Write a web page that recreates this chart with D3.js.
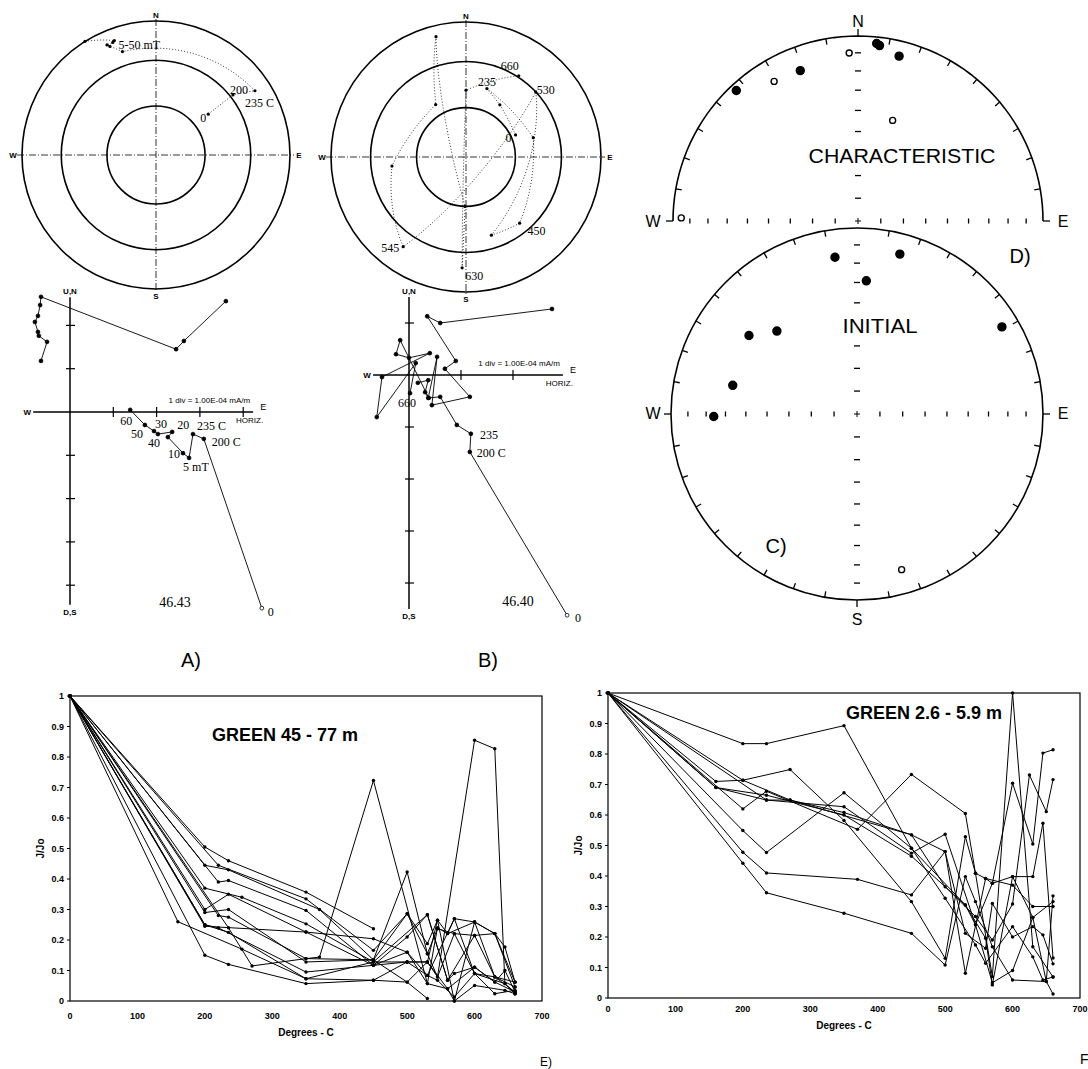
<!DOCTYPE html>
<html>
<head>
<meta charset="utf-8">
<script src="https://cdn.jsdelivr.net/npm/d3@7"></script>
<style>
  body { margin: 0; background: #fff; }
  svg { display: block; }
  text { fill: #000; }
</style>
</head>
<body>
<script>
// ---------- data ----------
// inclinations of the reference circles on the equal-area nets (A, B)
const netIncs = [0, 30, 60];

// A) demag path on the net (dec, inc in degrees)
const stepsA = [
  { dec: 52, inc: 49, label: "0" },
  { dec: 52, inc: 28, label: "200" },
  { dec: 57, inc: 13, label: "235 C" },
  { dec: 342, inc: 20, label: "5-50 mT" },
  { dec: 337, inc: 13 },
  { dec: 336, inc: 11 },
  { dec: 339, inc: 11 },
  { dec: 340, inc: 10 },
  { dec: 328, inc: 0 }
];

// B) thermal path on the net
const stepsB = [
  { dec: 66, inc: 57, label: "0" },
  { dec: 33, inc: 52 },
  { dec: 17, inc: 46, label: "235" },
  { dec: 74, inc: 47 },
  { dec: 141, inc: 37, label: "450" },
  { dec: 162, inc: 39 },
  { dec: 47, inc: 30, label: "530" },
  { dec: 215, inc: 20, label: "545" },
  { dec: 263, inc: 44 },
  { dec: 330, inc: 53 },
  { dec: 346, inc: 9 },
  { dec: 181, inc: 60 },
  { dec: 182, inc: 19, label: "630" },
  { dec: 0, inc: 49 },
  { dec: 33, inc: 29, label: "660" }
];

// Zijderveld diagrams, units of 1 div = 1.00E-04 mA/m  [east, up]
const zijAUpper = [[3.60, 2.56], [2.63, 1.64], [2.45, 1.45], [-0.67, 2.66], [-0.69, 2.47], [-0.74, 2.22],
  [-0.81, 2.08], [-0.74, 1.85], [-0.72, 1.76], [-0.53, 1.62], [-0.67, 1.18]];
const zijALower = [[4.43, -4.53], [3.09, -0.62], [2.84, -0.51], [2.75, -1.06], [2.61, -0.95], [2.26, -0.58],
  [2.36, -0.46], [2.03, -0.51], [1.94, -0.44], [1.73, -0.30], [1.39, 0.05]];
const zijALabels = ["0", "200 C", "235 C", "5 mT", "10", "", "20", "30", "40", "50", "60"];

const zijBUpper = [[2.75, 1.27], [0.60, 1.00], [0.35, 1.13], [0.90, 0.27], [0.69, 0.12], [1.17, -0.42],
  [0.44, -0.58], [0.54, 0.35], [0.37, -0.44], [0.31, -0.33], [0.37, -0.10], [0.17, -0.15]];
const zijBLower = [[3.04, -4.62], [1.17, -1.48], [1.19, -1.13], [0.92, -0.96], [0.60, -0.42], [0.38, -0.44],
  [-0.17, 0.67], [-0.25, 0.40], [0.00, 0.33], [0.40, 0.42], [-0.52, -0.04], [-0.62, -0.81], [0.13, 0.23], [0.02, -0.35]];
const zijBLabels = ["0", "200 C", "235", "", "", "", "", "", "", "", "", "", "", "660"];

// C) initial and D) characteristic directions (negative inc = upper hemisphere, open symbol)
const initialDirs = [
  { dec: 306, inc: 29 }, { dec: 316, inc: 38 }, { dec: 283, inc: 32 }, { dec: 269, inc: 24 },
  { dec: 59, inc: 10 }, { dec: 164, inc: -14 }, { dec: 352, inc: 16 }, { dec: 15, inc: 12 }, { dec: 4, inc: 29 }
];
const characteristicDirs = [
  { dec: 6, inc: 4 }, { dec: 7, inc: 5 }, { dec: 14, inc: 9 }, { dec: 339, inc: 14 }, { dec: 317, inc: 4 },
  { dec: 357, inc: -10 }, { dec: 329, inc: -13 }, { dec: 19, inc: -42 }, { dec: 271, inc: -5 }
];

// E) GREEN 45 - 77 m, J/Jo vs temperature
const greenDeep = [
  [[0, 1], [200, 0.505], [235, 0.46], [350, 0.357], [450, 0.237]],
  [[0, 1], [220, 0.445], [350, 0.335], [450, 0.166], [500, 0.286], [530, 0.188], [545, 0.265], [560, 0.221], [570, 0.27], [600, 0.259], [630, 0.221], [645, 0.177], [660, 0.062]],
  [[0, 1], [200, 0.445], [235, 0.43], [370, 0.30], [450, 0.135], [500, 0.423], [530, 0.155], [545, 0.237], [570, 0.221], [600, 0.215], [630, 0.079], [660, 0.046]],
  [[0, 1], [220, 0.39], [235, 0.395], [350, 0.297], [450, 0.117], [500, 0.21], [530, 0.283], [560, 0.068], [570, 0.09], [600, 0.111], [630, 0.062], [645, 0.10], [660, 0.03]],
  [[0, 1], [200, 0.37], [255, 0.34], [350, 0.253], [450, 0.128], [500, 0.128], [530, 0.128], [545, 0.079], [600, 0.855], [630, 0.827], [645, 0.057], [660, 0.024]],
  [[0, 1], [200, 0.30], [235, 0.35], [350, 0.226], [450, 0.204], [500, 0.16], [530, 0.084], [545, 0.068], [570, 0.013], [600, 0.09], [630, 0.024], [660, 0.035]],
  [[0, 1], [220, 0.28], [235, 0.275], [350, 0.139], [370, 0.144], [450, 0.723], [530, 0.057], [560, 0.04], [570, 0.0], [600, 0.051], [645, 0.035], [660, 0.024]],
  [[0, 1], [200, 0.29], [235, 0.30], [350, 0.128], [450, 0.135], [500, 0.062], [530, 0.008]],
  [[0, 1], [200, 0.25], [220, 0.24], [350, 0.095], [450, 0.117], [500, 0.128], [530, 0.084], [570, 0.27], [600, 0.09], [630, 0.079], [660, 0.062]],
  [[0, 1], [160, 0.26], [255, 0.17], [350, 0.073], [450, 0.068], [500, 0.062], [530, 0.128], [545, 0.265], [570, 0.0], [600, 0.259], [630, 0.221], [660, 0.046]],
  [[0, 1], [200, 0.15], [235, 0.12], [350, 0.057], [450, 0.068], [500, 0.128], [530, 0.128], [560, 0.04], [600, 0.111], [630, 0.062], [660, 0.03]],
  [[0, 1], [235, 0.24], [270, 0.115], [350, 0.139], [450, 0.135], [500, 0.286], [530, 0.155], [545, 0.079], [570, 0.221], [600, 0.09], [645, 0.057], [660, 0.024]],
  [[0, 1], [200, 0.25], [235, 0.225], [350, 0.073], [450, 0.128], [530, 0.283], [560, 0.068], [600, 0.215], [630, 0.221], [660, 0.062]],
  [[0, 1], [200, 0.245], [350, 0.226], [450, 0.117], [500, 0.16], [530, 0.057], [545, 0.24], [560, 0.221], [600, 0.259], [630, 0.079], [660, 0.03]]
];

// F) GREEN 2.6 - 5.9 m
const greenShallow = [
  [[0, 1], [200, 0.834], [235, 0.834], [350, 0.893], [450, 0.491], [530, 0.305], [560, 0.196], [570, 0.043], [600, 0.398], [630, 0.398], [645, 0.573], [660, 0.131]],
  [[0, 1], [160, 0.71], [200, 0.714], [270, 0.749], [350, 0.582], [450, 0.316], [500, 0.13], [530, 0.529], [545, 0.409], [560, 0.392], [600, 0.37], [630, 0.3], [660, 0.3]],
  [[0, 1], [160, 0.69], [235, 0.649], [350, 0.627], [450, 0.475], [500, 0.537], [545, 0.24], [570, 0.376], [600, 0.398], [630, 0.264], [660, 0.316]],
  [[0, 1], [200, 0.62], [235, 0.678], [370, 0.553], [450, 0.733], [530, 0.605], [545, 0.409], [570, 0.07], [600, 1.0], [630, 0.168], [660, 0.069]],
  [[0, 1], [200, 0.714], [270, 0.649], [350, 0.608], [450, 0.535], [500, 0.365], [545, 0.267], [570, 0.19], [600, 0.308], [625, 0.731], [650, 0.611], [660, 0.716]],
  [[0, 1], [200, 0.549], [235, 0.477], [350, 0.673], [450, 0.491], [500, 0.327], [545, 0.174], [560, 0.114], [600, 0.234], [630, 0.135], [645, 0.059], [660, 0.069]],
  [[0, 1], [200, 0.478], [235, 0.41], [370, 0.389], [450, 0.338], [500, 0.48], [530, 0.212], [560, 0.163], [570, 0.31], [600, 0.2], [630, 0.234], [645, 0.207], [660, 0.112]],
  [[0, 1], [200, 0.442], [235, 0.345], [350, 0.278], [450, 0.212], [500, 0.108], [530, 0.398], [545, 0.316], [570, 0.168], [600, 0.059], [650, 0.054], [660, 0.013]],
  [[0, 1], [235, 0.649], [270, 0.649], [450, 0.535], [500, 0.48], [530, 0.081], [560, 0.392], [570, 0.376], [600, 0.704], [630, 0.505], [645, 0.803], [660, 0.814]],
  [[0, 1], [160, 0.69], [235, 0.665], [350, 0.60], [450, 0.465], [530, 0.305], [545, 0.24], [570, 0.05], [600, 0.09], [630, 0.264], [650, 0.054], [660, 0.335]]
];

const decayTicksY = [0, 0.1, 0.2, 0.3, 0.4, 0.5, 0.6, 0.7, 0.8, 0.9, 1];
const decayTicksX = [0, 100, 200, 300, 400, 500, 600, 700];

// ---------- drawing ----------
const svg = d3.select("body").append("svg").attr("width", 1088).attr("height", 1069);
svg.append("rect").attr("width", 1088).attr("height", 1069).attr("fill", "#fff");

const SERIF = "'Liberation Serif', 'DejaVu Serif', serif";
const SANS = "'Liberation Sans', Arial, sans-serif";

// lower-hemisphere equal-area net centred on the pole; dec 0 up, dec 90 right
function net(cx, cy, R) {
  return d3.geoAzimuthalEqualArea().rotate([0, -90]).scale(R / Math.SQRT2).translate([cx, cy]).precision(0.1);
}
const ll = d => [180 - d.dec, Math.abs(d.inc)];

function text(g, x, y, s, size, opts = {}) {
  return g.append("text").attr("x", x).attr("y", y).text(s)
    .attr("font-family", opts.family || SANS).attr("font-size", size)
    .attr("font-weight", opts.weight || "normal")
    .attr("text-anchor", opts.anchor || "start");
}

function drawPolar(cx, cy, R, steps, labelPos) {
  const p = net(cx, cy, R);
  const path = d3.geoPath(p);
  const g = svg.append("g");
  const dashDot = "7,2,1,2";
  g.append("line").attr("x1", cx - R - 5).attr("x2", cx + R + 4).attr("y1", cy).attr("y2", cy)
    .attr("stroke", "#000").attr("stroke-width", 0.8).attr("stroke-dasharray", dashDot);
  g.append("line").attr("x1", cx).attr("x2", cx).attr("y1", cy - R - 2).attr("y2", cy + R + 2)
    .attr("stroke", "#000").attr("stroke-width", 0.8).attr("stroke-dasharray", dashDot);
  netIncs.forEach(inc => {
    const q = p([0, inc]);
    const r = Math.hypot(q[0] - cx, q[1] - cy);
    g.append("circle").attr("cx", cx).attr("cy", cy).attr("r", r)
      .attr("fill", "none").attr("stroke", "#000").attr("stroke-width", 1.6);
  });
  g.append("path").datum({ type: "LineString", coordinates: steps.map(ll) }).attr("d", path)
    .attr("fill", "none").attr("stroke", "#000").attr("stroke-width", 0.8).attr("stroke-dasharray", "1,2");
  g.selectAll("circle.pt").data(steps).join("circle").attr("class", "pt")
    .attr("cx", d => p(ll(d))[0]).attr("cy", d => p(ll(d))[1]).attr("r", 1.6).attr("fill", "#000");
  steps.forEach(d => {
    if (!d.label) return;
    const q = p(ll(d));
    const o = labelPos[d.label];
    text(g, q[0] + o[0], q[1] + o[1], d.label, 12, { family: SERIF, anchor: o[2] || "start" });
  });
  text(g, cx, cy - R - 3, "N", 8, { weight: "bold", anchor: "middle" });
  text(g, cx, cy + R + 10, "S", 8, { weight: "bold", anchor: "middle" });
  text(g, cx - R - 9, cy + 3, "W", 8, { weight: "bold", anchor: "middle" });
  text(g, cx + R + 9, cy + 3, "E", 8, { weight: "bold", anchor: "middle" });
}

drawPolar(156, 155, 134, stepsA, {
  "0": [-2, 8, "end"], "200": [-3, -1], "235 C": [-10, 16], "5-50 mT": [-4, -3]
});
drawPolar(466, 157, 135, stepsB, {
  "0": [-10, 7], "235": [-9, -3], "530": [1, 2], "450": [8, 12], "545": [-4, 5, "end"],
  "630": [3, 12], "660": [-18, -6]
});

// Zijderveld diagrams
function drawZij(ox, oy, div, xr, yr, upper, lower, labels, labelPos, sample, noteXY) {
  const x = d3.scaleLinear().domain([0, 1]).range([ox, ox + div]);
  const y = d3.scaleLinear().domain([0, 1]).range([oy, oy - div]);
  const g = svg.append("g");
  g.append("line").attr("x1", x(xr[0])).attr("x2", x(xr[1])).attr("y1", oy).attr("y2", oy)
    .attr("stroke", "#000").attr("stroke-width", 1.5);
  g.append("line").attr("x1", ox).attr("x2", ox).attr("y1", y(yr[1])).attr("y2", y(yr[0]))
    .attr("stroke", "#000").attr("stroke-width", 1.5);
  d3.range(Math.ceil(xr[0]), Math.floor(xr[1]) + 1).filter(v => v !== 0).forEach(v => {
    g.append("line").attr("x1", x(v)).attr("x2", x(v)).attr("y1", oy - 5).attr("y2", oy + 5)
      .attr("stroke", "#000").attr("stroke-width", 1.2);
  });
  d3.range(Math.ceil(yr[0]), Math.floor(yr[1]) + 1).filter(v => v !== 0).forEach(v => {
    g.append("line").attr("x1", ox - 4).attr("x2", ox + 5).attr("y1", y(v)).attr("y2", y(v))
      .attr("stroke", "#000").attr("stroke-width", 1.2);
  });
  const line = d3.line().x(d => x(d[0])).y(d => y(d[1]));
  [upper, lower].forEach(tr => {
    g.append("path").attr("d", line(tr)).attr("fill", "none").attr("stroke", "#000").attr("stroke-width", 0.9);
    g.selectAll(null).data(tr).join("circle")
      .attr("cx", d => x(d[0])).attr("cy", d => y(d[1])).attr("r", 1.9)
      .attr("fill", (d, i) => (tr === lower && i === 0) ? "#fff" : "#000")
      .attr("stroke", "#000").attr("stroke-width", 0.8);
  });
  lower.forEach((d, i) => {
    const s = labels[i];
    if (!s) return;
    const o = labelPos[s];
    text(g, x(d[0]) + o[0], y(d[1]) + o[1], s, 12, { family: SERIF, anchor: o[2] || "start" });
  });
  text(g, ox, y(yr[1]) - 3, "U,N", 8, { weight: "bold", anchor: "middle" });
  text(g, ox, y(yr[0]) + 10, "D,S", 8, { weight: "bold", anchor: "middle" });
  text(g, x(xr[0]) - 6, oy + 3, "W", 8, { weight: "bold", anchor: "middle" });
  text(g, x(xr[1]) + 10, oy - 2, "E", 9, { anchor: "middle" });
  text(g, x(xr[1]) + 10, oy + 11, "HORIZ.", 8, { anchor: "end" });
  text(g, x(xr[1]) - 3, oy - 9, "1 div = 1.00E-04 mA/m", 8, { anchor: "end" });
  text(g, noteXY[0], noteXY[1], sample, 14, { family: SERIF, anchor: "middle" });
}

drawZij(70, 412, 43.3, [-0.85, 4.23], [-4.45, 2.65], zijAUpper, zijALower, zijALabels, {
  "0": [6, 8], "200 C": [8, 7], "235 C": [4, -4], "5 mT": [-6, 13], "10": [-3, 5, "end"],
  "20": [5, -3], "30": [-3, -6], "40": [-6, 16], "50": [-2, 13, "end"], "60": [-10, 15]
}, "46.43", [175, 607]);
drawZij(409, 375, 52, [-0.69, 2.96], [-4.5, 1.5], zijBUpper, zijBLower, zijBLabels, {
  "0": [8, 7], "200 C": [7, 5], "235": [9, 5], "660": [-3, 14, "middle"]
}, "46.40", [518, 606]);

text(svg, 191, 667, "A)", 20, { anchor: "middle" });
text(svg, 488, 667, "B)", 20, { anchor: "middle" });

// C) / D) equal-area nets with ticks
function stereoTicks(g, p, cx, cy, R, azs, axes) {
  azs.forEach(az => {
    const a = az * Math.PI / 180, sx = Math.sin(a), sy = -Math.cos(a);
    const out = az % 90 === 0;
    const r0 = out ? R : R - 6, r1 = out ? R + 7 : R;
    if (out && az === 0 && axes.skipTop) return;
    g.append("line").attr("x1", cx + sx * r0).attr("y1", cy + sy * r0).attr("x2", cx + sx * r1).attr("y2", cy + sy * r1)
      .attr("stroke", "#000").attr("stroke-width", 1.3);
  });
  const incs = d3.range(10, 90, 10);
  axes.ew.forEach(dec => incs.forEach(inc => {
    const q = p(ll({ dec, inc }));
    g.append("line").attr("x1", q[0]).attr("x2", q[0]).attr("y1", q[1] - 2.5).attr("y2", q[1] + 2.5)
      .attr("stroke", "#000").attr("stroke-width", 1.3);
  }));
  axes.ns.forEach(dec => incs.forEach(inc => {
    const q = p(ll({ dec, inc }));
    g.append("line").attr("x1", q[0] - 3).attr("x2", q[0] + 3).attr("y1", q[1]).attr("y2", q[1])
      .attr("stroke", "#000").attr("stroke-width", 1.3);
  }));
  g.append("path").attr("d", `M${cx - 3},${cy}H${cx + 3}M${cx},${cy - 3}V${cy + 3}`)
    .attr("stroke", "#000").attr("stroke-width", 1);
}

function plotDirs(g, p, dirs) {
  g.selectAll(null).data(dirs).join("circle")
    .attr("cx", d => p(ll(d))[0]).attr("cy", d => p(ll(d))[1])
    .attr("r", d => d.inc >= 0 ? 4 : 3)
    .attr("fill", d => d.inc >= 0 ? "#000" : "#fff")
    .attr("stroke", "#000").attr("stroke-width", 1.4);
}

function maskedLabel(g, x, y, s, size, width) {
  const t = text(g, x, y, s, size, { anchor: "middle" }).attr("textLength", width).attr("lengthAdjust", "spacingAndGlyphs");
  const b = t.node().getBBox();
  g.insert("rect", "text").attr("x", b.x - 2).attr("y", b.y).attr("width", b.width + 4).attr("height", b.height)
    .attr("fill", "#fff");
  t.raise();
}

// C) initial - full circle
{
  const cx = 857, cy = 414, R = 186;
  const p = net(cx, cy, R);
  const g = svg.append("g");
  g.append("circle").attr("cx", cx).attr("cy", cy).attr("r", R).attr("fill", "none").attr("stroke", "#000").attr("stroke-width", 1.6);
  stereoTicks(g, p, cx, cy, R, d3.range(0, 360, 10), { ew: [90, 270], ns: [0, 180], skipTop: true });
  maskedLabel(g, 880, 333, "INITIAL", 21, 75);
  plotDirs(g, p, initialDirs);
  text(g, 653, 419, "W", 16, { anchor: "middle" });
  text(g, 1063, 419, "E", 16, { anchor: "middle" });
  text(g, cx, 625, "S", 16, { anchor: "middle" });
  text(g, 776, 553, "C)", 20, { anchor: "middle" });
}

// D) characteristic - upper half only
{
  const cx = 858, cy = 221, R = 185;
  const p = net(cx, cy, R);
  const g = svg.append("g");
  const rim = d3.range(270, 451, 5).map(a => ({ dec: a % 360, inc: 0 }));
  g.append("path").datum({ type: "LineString", coordinates: rim.map(ll) }).attr("d", d3.geoPath(p))
    .attr("fill", "none").attr("stroke", "#000").attr("stroke-width", 1.6);
  stereoTicks(g, p, cx, cy, R, d3.range(-90, 91, 10).map(a => (a + 360) % 360), { ew: [90, 270], ns: [0] });
  maskedLabel(g, 902, 163, "CHARACTERISTIC", 21, 187);
  plotDirs(g, p, characteristicDirs);
  text(g, cx, 27, "N", 16, { anchor: "middle" });
  text(g, 653, 227, "W", 16, { anchor: "middle" });
  text(g, 1063, 227, "E", 16, { anchor: "middle" });
  text(g, 1020, 263, "D)", 20, { anchor: "middle" });
}

// E) / F) J/Jo decay curves
function drawDecay(xr, yr, series, title, titleXY, labelY) {
  const x = d3.scaleLinear().domain([0, 700]).range(xr);
  const y = d3.scaleLinear().domain([0, 1]).range(yr);
  const g = svg.append("g");
  g.append("rect").attr("x", xr[0]).attr("y", yr[1]).attr("width", xr[1] - xr[0]).attr("height", yr[0] - yr[1])
    .attr("fill", "none").attr("stroke", "#000").attr("stroke-width", 1.2);
  decayTicksY.forEach(v => {
    g.append("line").attr("x1", xr[0] - 3).attr("x2", xr[0]).attr("y1", y(v)).attr("y2", y(v)).attr("stroke", "#000");
    text(g, xr[0] - 6, y(v) + 3, String(v), 9, { weight: "bold", anchor: "end" });
  });
  decayTicksX.forEach(v => {
    text(g, x(v), labelY, String(v), 9, { weight: "bold", anchor: "middle" });
  });
  text(g, (xr[0] + xr[1]) / 2, labelY + 17, "Degrees - C", 10, { weight: "bold", anchor: "middle" });
  text(g, 0, 0, "J/Jo", 10, { weight: "bold", anchor: "middle" })
    .attr("transform", `translate(${xr[0] - 26},${y(0.5)}) rotate(-90)`);
  const line = d3.line().x(d => x(d[0])).y(d => y(d[1]));
  series.forEach(s => {
    g.append("path").attr("d", line(s)).attr("fill", "none").attr("stroke", "#000").attr("stroke-width", 1);
    g.selectAll(null).data(s).join("circle").attr("cx", d => x(d[0])).attr("cy", d => y(d[1])).attr("r", 1.7).attr("fill", "#000");
  });
  text(g, titleXY[0], titleXY[1], title, 18, { weight: "bold" });
}

drawDecay([70, 542], [1001, 696], greenDeep, "GREEN 45 - 77 m", [212, 741], 1019);
drawDecay([608, 1080], [998, 693], greenShallow, "GREEN 2.6 - 5.9 m", [846, 719], 1012);

text(svg, 546, 1066, "E)", 12, { anchor: "middle" });
text(svg, 1080, 1064, "F", 14);
</script>
</body>
</html>
